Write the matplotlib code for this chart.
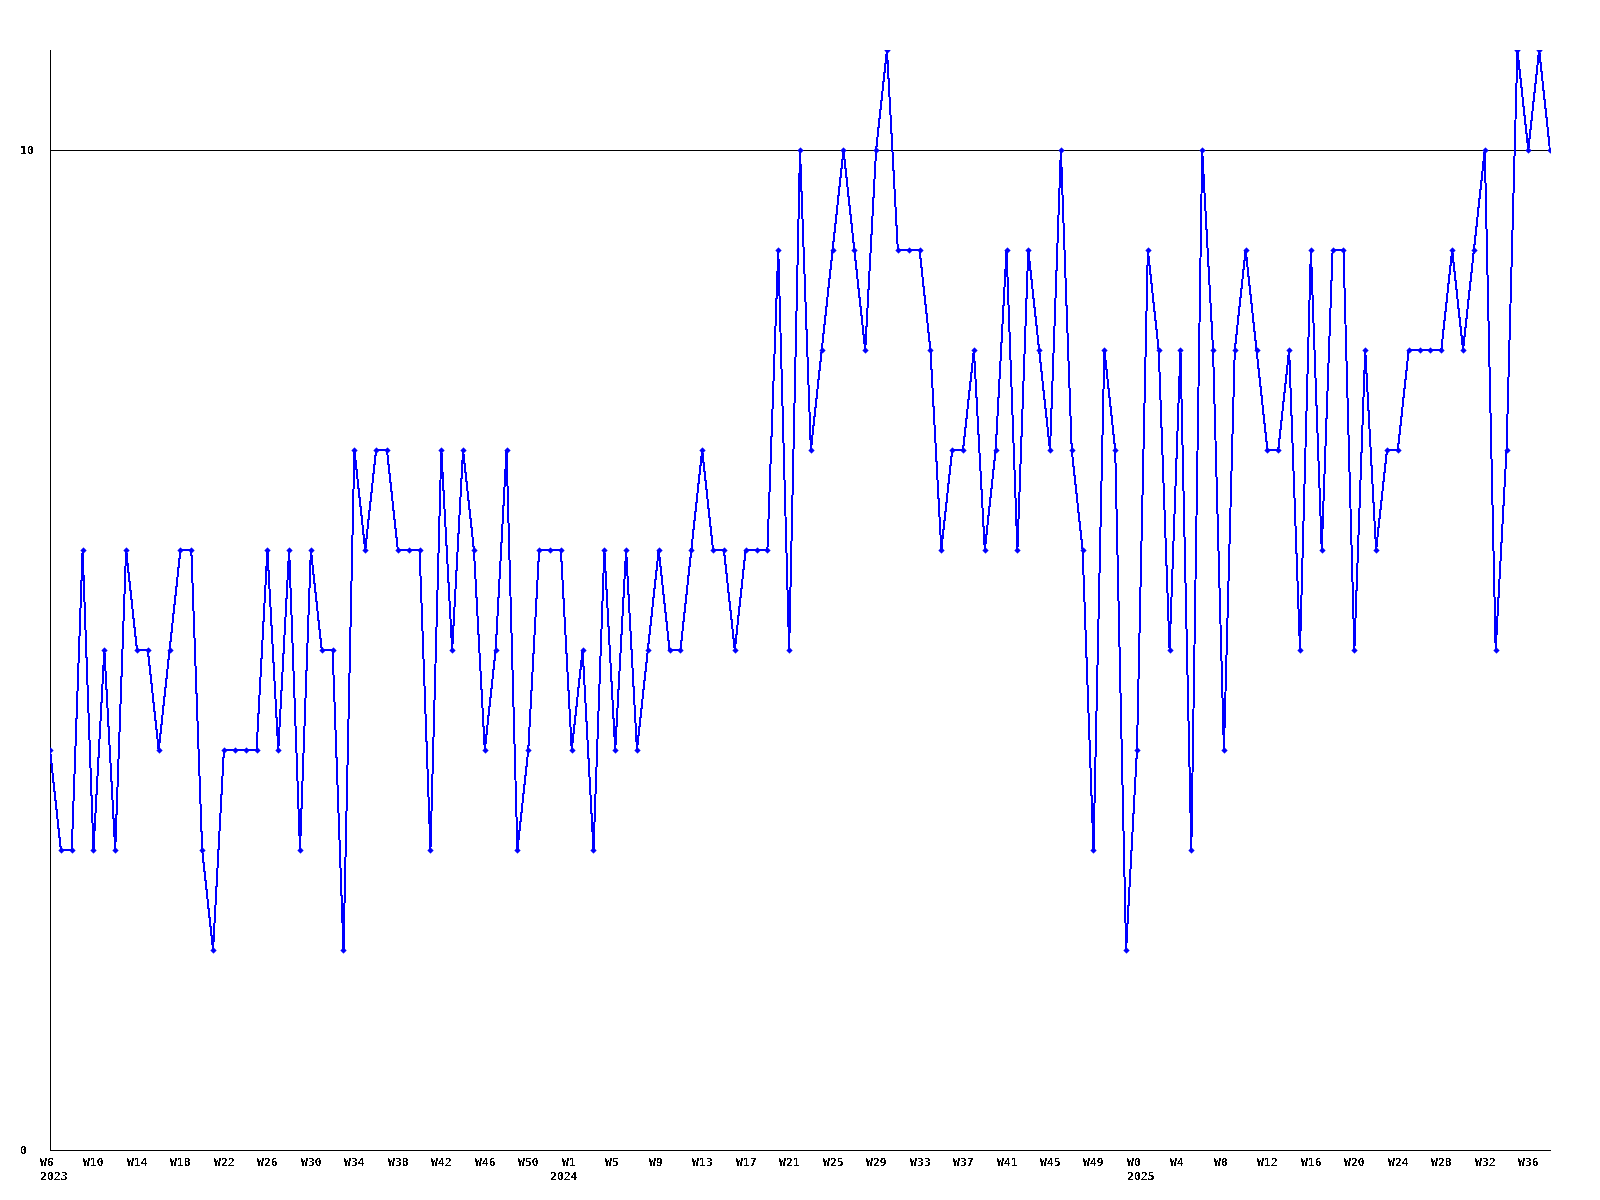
import matplotlib
matplotlib.use("Agg")
import matplotlib.pyplot as plt
from matplotlib.transforms import ScaledTranslation

# weekly counts, 2023 W6 .. 2025 W38
values = [4, 3, 3, 6, 3, 5, 3, 6, 5, 5, 4, 5, 6, 6, 3, 2, 4, 4, 4, 4,
          6, 4, 6, 3, 6, 5, 5, 2, 7, 6, 7, 7, 6, 6, 6, 3, 7, 5, 7, 6,
          4, 5, 7, 3, 4, 6, 6, 6, 4, 5, 3, 6, 4, 6, 4, 5, 6, 5, 5, 6,
          7, 6, 6, 5, 6, 6, 6, 9, 5, 10, 7, 8, 9, 10, 9, 8, 10, 11, 9, 9,
          9, 8, 6, 7, 7, 8, 6, 7, 9, 6, 9, 8, 7, 10, 7, 6, 3, 8, 7, 2,
          4, 9, 8, 5, 8, 3, 10, 8, 4, 8, 9, 8, 7, 7, 8, 5, 9, 6, 9, 9,
          5, 8, 6, 7, 7, 8, 8, 8, 8, 9, 8, 9, 10, 5, 7, 11, 10, 11, 10]

week_labels = ["W6", "W10", "W14", "W18", "W22", "W26", "W30", "W34", "W38",
               "W42", "W46", "W50",
               "W1", "W5", "W9", "W13", "W17", "W21", "W25", "W29", "W33",
               "W37", "W41", "W45", "W49",
               "W0", "W4", "W8", "W12", "W16", "W20", "W24", "W28", "W32", "W36"]
week_label_pos = list(range(0, 137, 4))

year_labels = ["2023", "2024", "2025"]
year_label_pos = [0, 47, 100]

y_ticks = [0, 10]

plt.rcParams["text.antialiased"] = False
fig = plt.figure(figsize=(16, 12), dpi=100)
ax = fig.add_axes([50 / 1600, 50 / 1200, 1500 / 1600, 1100 / 1200])

x = list(range(len(values)))
ax.axhline(10, color="black", lw=0.7, zorder=1, antialiased=False)
ax.plot(x, values, color="#0000ff", lw=0.7, zorder=3, antialiased=False)
ax.plot(x, values, color="#0000ff", lw=0, marker="D", ms=3.2, mew=0,
        zorder=4)

ax.set_xlim(0, len(values) - 1)
ax.set_ylim(0, 11)

for s in ["top", "right"]:
    ax.spines[s].set_visible(False)
for s in ["left", "bottom"]:
    ax.spines[s].set_linewidth(0.7)
    ax.spines[s].set_antialiased(False)

font = dict(fontfamily="DejaVu Sans Mono", fontweight="bold", fontsize=8.2)

ax.set_xticks([])
ax.set_yticks(y_ticks)
ax.set_yticklabels([str(t) for t in y_ticks], **font)
ax.tick_params(axis="y", length=0, pad=21.6)
for lab in ax.get_yticklabels():
    lab.set_horizontalalignment("left")

base = ax.get_xaxis_transform()
for pos, lab in zip(week_label_pos, week_labels):
    tr = base + ScaledTranslation(-10 / 100, -16.5 / 100, fig.dpi_scale_trans)
    ax.text(pos, 0, lab, transform=tr, ha="left", va="baseline",
            clip_on=False, **font)
for pos, lab in zip(year_label_pos, year_labels):
    tr = base + ScaledTranslation(-10 / 100, -30.5 / 100, fig.dpi_scale_trans)
    ax.text(pos, 0, lab, transform=tr, ha="left", va="baseline",
            clip_on=False, **font)

fig.savefig("out.png", dpi=100)
